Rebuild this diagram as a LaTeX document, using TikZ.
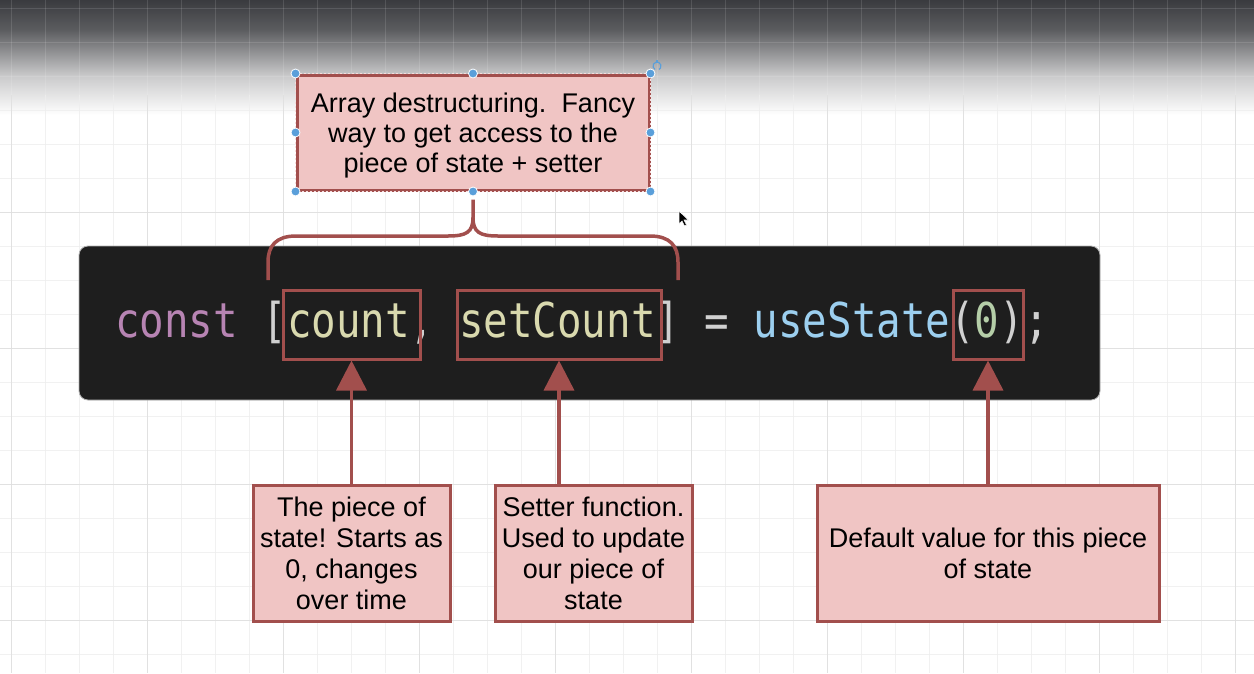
\documentclass[tikz,border=0pt]{standalone}
\usepackage{fontspec}
\setmainfont{Liberation Sans}
\newfontfamily\codefont[FakeStretch=0.85]{DejaVu Sans Mono}
\usetikzlibrary{arrows.meta,calc}
\definecolor{bord}{HTML}{A24F4D}
\definecolor{pinkf}{HTML}{F0C5C4}
\definecolor{codebg}{HTML}{1E1E1E}
\definecolor{kw}{HTML}{B784B3}
\definecolor{punc}{HTML}{D0D0D0}
\definecolor{var}{HTML}{D9D9AE}
\definecolor{fn}{HTML}{9CCFEF}
\definecolor{num}{HTML}{B5CEA8}
\definecolor{hdl}{HTML}{5A9FDA}
\definecolor{gminor}{HTML}{EEEEEE}
\definecolor{gmajor}{HTML}{DEDEDE}
\definecolor{g1}{HTML}{3A3B3F}
\definecolor{g2}{HTML}{5C5D60}
\definecolor{g3}{HTML}{C9C9CA}
\definecolor{g4}{HTML}{FFFFFF}
\begin{document}
\begin{tikzpicture}[x=1pt,y=-1pt,
  note/.style={draw=bord, line width=3pt, fill=pinkf, inner sep=0pt, align=center,
    font=\fontsize{27}{31}\selectfont, text=black},
  hl/.style={draw=bord, line width=3pt, inner sep=0pt},
  conn/.style={draw=bord, line width=3.5pt},
  arr/.style={conn, -{Triangle[width=30pt,length=30pt]}},
  handle/.style={fill=hdl, draw=white, line width=0.8pt}]
\useasboundingbox (0,0) rectangle (1254,673);
\fill[white] (0,0) rectangle (1254,673);
% top gradient
\shade[top color=g1, bottom color=g2] (0,0) rectangle (1254,30.5);
\shade[top color=g2, bottom color=g3] (0,30) rectangle (1254,75.5);
\shade[top color=g3, bottom color=g4] (0,75) rectangle (1254,115);
% grid: faint over the gradient, normal below it
\begin{scope}
\clip (0,0) rectangle (1254,95);
\foreach \i in {0,...,36} \draw[white, line width=0.9pt, opacity=0.12] ({11+34*\i},0) -- ({11+34*\i},95);
\foreach \i in {0,...,2} \draw[white, line width=0.9pt, opacity=0.12] (0,{8+34*\i}) -- (1254,{8+34*\i});
\end{scope}
\begin{scope}
\clip (0,95) rectangle (1254,673);
\foreach \i in {0,...,36} \draw[gminor, line width=0.9pt, opacity=0.8] ({11+34*\i},0) -- ({11+34*\i},673);
\foreach \i in {0,...,19} \draw[gminor, line width=0.9pt, opacity=0.8] (0,{8+34*\i}) -- (1254,{8+34*\i});
\foreach \i in {0,...,9} \draw[gmajor, line width=1pt, opacity=0.8] ({11+136*\i},0) -- ({11+136*\i},673);
\foreach \i in {0,...,4} \draw[gmajor, line width=1pt, opacity=0.8] (0,{76+136*\i}) -- (1254,{76+136*\i});
\end{scope}
% code panel
\node[fill=codebg, draw=gray!60, line width=0.8pt, rounded corners=9pt, minimum width=1021pt, minimum height=154pt, inner sep=0pt] (code) at (589.5,323) {};
\node[anchor=base west, inner sep=0pt, font=\codefont\fontsize{48}{48}\selectfont] (codeline) at (115,337)
  {\textcolor{kw}{const} \textcolor{punc}{[}\textcolor{var}{count}\textcolor{punc}{,} \textcolor{var}{setCount}\textcolor{punc}{]} \textcolor{punc}{=} \textcolor{fn}{useState}\textcolor{punc}{(}\textcolor{num}{0}\textcolor{punc}{)}\textcolor{punc}{;}};
% highlight boxes
\node[hl, minimum width=137pt, minimum height=69pt] (cnt) at (351.5,324.5) {};
\node[hl, minimum width=204pt, minimum height=69pt] (sc) at (559,324.5) {};
\node[hl, minimum width=70pt, minimum height=69pt] (zero) at (988,324.5) {};
% top note
\node[note, minimum width=352pt, minimum height=115pt] (top) at (473,132.5) {};
\node[align=center, inner sep=0pt, font=\fontsize{27}{30}\selectfont] (toptext) at ($(top.center)+(0,3)$)
  {Array destructuring.\ \ Fancy\\way to get access to the\\piece of state + setter};
\draw[pinkf!60!white, line width=0.8pt, dash pattern=on 2pt off 2pt] (top.north west) rectangle (top.south east);
% brace
\coordinate (bs) at ($(top.south)+(0,8)$);
\coordinate (bm) at ($(top.south)+(0,26)$);
\draw[conn] (bs) -- (bm) .. controls +(0,15) and (466,236) .. (448,236) -- (296,236) .. controls (276,236) and (268,246) .. (268,262) -- (268,280);
\draw[conn] (bm) .. controls +(0,15) and (480,236) .. (498,236) -- (650,236) .. controls (670,236) and (678,246) .. (678,262) -- (678,280);
% handles
\foreach \p in {north west, north, north east, west, east, south west, south, south east}
  \fill[handle] (top.\p) circle (4.5pt);
\draw[hdl, line width=1.1pt] (657,66) ++(60:-4pt) arc[start angle=240, end angle=-60, radius=4pt];
\draw[hdl, line width=1.1pt] (657,60) -- (657,62.5);
% cursor
\filldraw[fill=black, draw=white, line width=0.6pt] (679,211) -- (679,224) -- (682,221) -- (684.5,226) -- (686.5,225) -- (684,220) -- (688.5,220) -- cycle;
% bottom notes
\node[note, minimum width=197pt, minimum height=136pt] (b1) at (351.5,553)
  {The piece of\\state! Starts as\\0, changes\\over time};
\node[note, minimum width=197pt, minimum height=136pt] (b2) at (593.5,553)
  {Setter function.\\Used to update\\our piece of\\state};
\node[note, minimum width=342pt, minimum height=136pt] (b3) at (988,553)
  {Default value for this piece\\of state};
% arrows
\draw[arr] (b1.north) -- (cnt.south);
\draw[arr] (sc.south |- b2.north) -- (sc.south);
\draw[arr] (b3.north) -- (zero.south);
\end{tikzpicture}
\end{document}
